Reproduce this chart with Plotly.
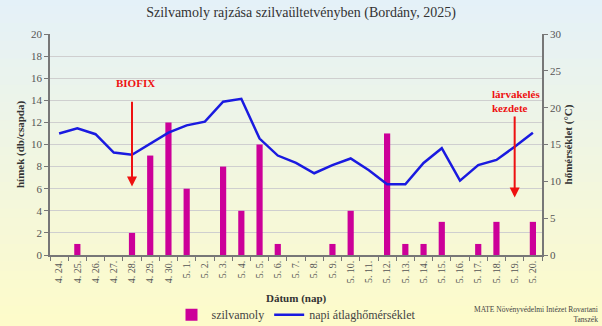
import plotly.graph_objects as go

dates = ["4. 24.", "4. 25.", "4. 26.", "4. 27.", "4. 28.", "4. 29.", "4. 30.",
         "5. 1.", "5. 2.", "5. 3.", "5. 4.", "5. 5.", "5. 6.", "5. 7.", "5. 8.",
         "5. 9.", "5. 10.", "5. 11.", "5. 12.", "5. 13.", "5. 14.", "5. 15.",
         "5. 16.", "5. 17.", "5. 18.", "5. 19.", "5. 20."]
moths = [0, 1, 0, 0, 2, 9, 12, 6, 0, 8, 4, 10, 1, 0, 0, 1, 4, 0, 11, 1, 1, 3, 0, 1, 3, 0, 3]
temps = [16.5, 17.2, 16.4, 13.9, 13.6, 15.1, 16.6, 17.6, 18.1, 20.8, 21.2, 15.8,
         13.5, 12.5, 11.1, 12.2, 13.1, 11.5, 9.6, 9.6, 12.5, 14.5, 10.1, 12.2,
         12.9, 14.7, 16.6]

SERIF = "Liberation Serif"
fig = go.Figure()

fig.add_trace(go.Bar(x=dates, y=moths, name="szilvamoly",
                     marker=dict(color="#cc0099", line=dict(width=0)),
                     yaxis="y"))
fig.add_trace(go.Scatter(x=dates, y=temps, name="napi átlaghőmérséklet",
                         mode="lines", line=dict(color="#1a1ae0", width=2.5),
                         yaxis="y2"))

# background gradient
n = 40
top = (228, 241, 250)
bot = (255, 252, 200)
shapes = []
for i in range(n):
    t = i / (n - 1)
    c = tuple(int(top[k] + (bot[k] - top[k]) * t) for k in range(3))
    shapes.append(dict(type="rect", xref="paper", yref="paper",
                       x0=-0.2, x1=1.3, y0=1.2 - (i + 1) * 1.6 / n, y1=1.2 - i * 1.6 / n + 0.01,
                       fillcolor="rgb(%d,%d,%d)" % c, line=dict(width=0), layer="below"))

fig.update_layout(
    width=602, height=326,
    margin=dict(l=50, r=60, t=34, b=71, autoexpand=False),
    paper_bgcolor="rgb(242,247,220)",
    plot_bgcolor="rgba(0,0,0,0)",
    shapes=shapes,
    bargap=0.66,
    font=dict(family=SERIF, color="#444", size=11),
    title=dict(text="Szilvamoly rajzása szilvaültetvényben (Bordány, 2025)",
               x=0.5, xanchor="center", y=0.963, yanchor="middle",
               font=dict(family=SERIF, size=14, color="#333")),
    xaxis=dict(type="category", tickangle=-90, tickfont=dict(size=10, color="#555"),
               automargin=False,
               showline=True, linecolor="#777", linewidth=1.5,
               ticks="outside", tickson="boundaries", ticklen=4, tickcolor="#777",
               showgrid=False, range=[-0.5, len(dates) - 0.5]),
    yaxis=dict(range=[0, 20], dtick=2, showgrid=True, gridcolor="#cfcfcf",
               automargin=False,
               gridwidth=1, zeroline=False, showline=True, linecolor="#777",
               linewidth=1.5, ticks="outside", ticklen=4, tickcolor="#777",
               tickfont=dict(size=11, color="#555"),
               title=dict(text="<b>hímek (db/csapda)</b>", standoff=4,
                          font=dict(size=11, color="#333"))),
    yaxis2=dict(range=[0, 30], dtick=5, overlaying="y", side="right",
                automargin=False,
                showgrid=False, zeroline=False, showline=True, linecolor="#777",
                linewidth=1.5, ticks="outside", ticklen=4, tickcolor="#777",
                tickfont=dict(size=11, color="#555"),
                title=dict(text="<b>hőmérséklet (°C)</b>", standoff=4,
                           font=dict(size=11, color="#333"))),
    legend=dict(orientation="h", x=0.5, xanchor="center", y=-0.27, yanchor="middle",
                bgcolor="rgba(0,0,0,0)", font=dict(size=12, color="#444"),
                itemwidth=30, tracegroupgap=0),
    showlegend=True,
)

fig.add_annotation(x=0.5, y=-0.195, xref="paper", yref="paper", showarrow=False,
                   yanchor="middle", text="<b>Dátum (nap)</b>",
                   font=dict(size=11, color="#333", family=SERIF))
fig.add_annotation(x="4. 28.", y=6.2, ax="4. 28.", ay=14, xref="x", yref="y",
                   axref="x", ayref="y", showarrow=True, arrowhead=2, arrowsize=1,
                   arrowwidth=2, arrowcolor="#ee1111", text="")
fig.add_annotation(x="4. 28.", y=15.55, xref="x", yref="y", showarrow=False, xshift=3,
                   text="<b>BIOFIX</b>", font=dict(size=11, color="#ee1111", family=SERIF))
fig.add_annotation(x="5. 19.", y=7.8, ax="5. 19.", ay=19, xref="x", yref="y2",
                   axref="x", ayref="y2", showarrow=True, arrowhead=2, arrowsize=1,
                   arrowwidth=2, arrowcolor="#ee1111", text="")
fig.add_annotation(x=1.0, y=0.63, xref="paper", yref="paper", xanchor="right",
                   yanchor="bottom", showarrow=False, align="left",
                   text="<b>lárvakelés<br>kezdete</b>",
                   font=dict(size=11, color="#ee1111", family=SERIF))
fig.add_annotation(x=1.117, y=-0.27, xref="paper", yref="paper", xanchor="right",
                   yanchor="middle", showarrow=False, align="right",
                   text="MATE Növényvédelmi Intézet Rovartani<br>Tanszék",
                   font=dict(size=7.5, color="#444", family=SERIF))

fig.write_html("out.html")
